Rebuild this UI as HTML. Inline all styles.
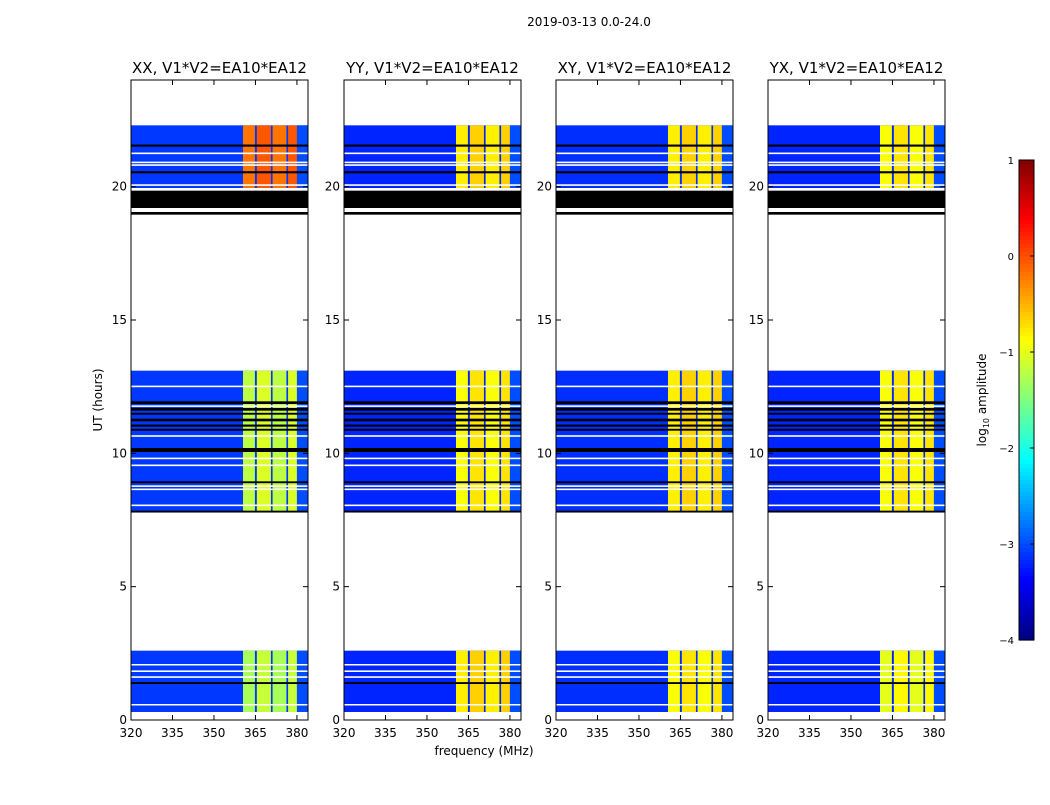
<!DOCTYPE html>
<html><head><meta charset="utf-8">
<style>
body{margin:0;background:#fff;}
svg text{font-family:"DejaVu Sans","Liberation Sans",sans-serif;fill:#000;}
</style></head>
<body>
<svg id="fig" width="1050" height="800" xmlns="http://www.w3.org/2000/svg">
<text x="589" y="26" font-size="12" text-anchor="middle">2019-03-13 0.0-24.0</text>
<text x="484" y="755" font-size="12" text-anchor="middle">frequency (MHz)</text>
<text transform="translate(102,400) rotate(-90)" font-size="12" text-anchor="middle">UT (hours)</text>
<text transform="translate(986,400) rotate(-90)" font-size="12" text-anchor="middle">log<tspan font-size="8" dy="3">10</tspan><tspan dy="-3"> amplitude</tspan></text>
</svg>
<script>
// ---- data ----
const panelTitles = ["XX, V1*V2=EA10*EA12","YY, V1*V2=EA10*EA12","XY, V1*V2=EA10*EA12","YX, V1*V2=EA10*EA12"];
const xTicks = [320,335,350,365,380];
const yTicks = [0,5,10,15,20];
const cbarTicks = [1,0,-1,-2,-3,-4];
const timeBlocks = [[0.3,2.6],[7.8,13.1],[19.95,22.3]];
// bright-band level per panel per block (log10 amp)
const bandLevelXX = [-1.3,-1.2,-0.2];
const bandLevelYY = [-0.8,-0.9,-0.8];
const bandLevelXY = [-0.9,-0.8,-0.8];
const bandLevelYX = [-1.0,-0.9,-0.9];
const backgroundLevel = [-3.1,-3.2,-3.15,-3.2];
// channel start freqs (MHz) of bright segments
const bandSegStart = [360.5,365.5,371.2,376.8];
const bandSegEnd = [364.8,370.6,376.2,380.0];
const blackBands = [[19.2,19.85],[18.95,19.05],[21.5,21.58],[20.5,20.58],[11.85,11.95],[11.6,11.7],[11.45,11.52],[11.2,11.3],[11.0,11.08],[10.85,10.92],[10.05,10.2],[8.88,8.95],[7.78,7.85],[1.35,1.42]];
const whiteLines = [[0.55,0.6],[1.58,1.64],[1.8,1.86],[2.05,2.1],[8.02,8.08],[8.62,8.68],[8.74,8.8],[9.52,9.58],[9.78,9.84],[10.62,10.68],[11.74,11.8],[12.48,12.54],[20.03,20.09],[20.78,20.84],[20.88,20.94],[21.22,21.28],[19.88,19.95],[19.05,19.12]];
const panelsLeft = [131,344,556,768];
const bandLevels = [bandLevelXX,bandLevelYY,bandLevelXY,bandLevelYX];

// ---- layout ----
const PW=177, TOP=80, BOT=720, FMIN=320, FMAX=384;
const svg=document.getElementById('fig');
const NS="http://www.w3.org/2000/svg";
const yS=h=>BOT-h*(BOT-TOP)/24;
const xS=(x0,f)=>x0+(f-FMIN)*PW/(FMAX-FMIN);
function jet(v){
  let t=Math.max(0,Math.min(1,(v+4)/5));
  const r=Math.max(0,Math.min(1,1.5-Math.abs(4*t-3)));
  const g=Math.max(0,Math.min(1,1.5-Math.abs(4*t-2)));
  const b=Math.max(0,Math.min(1,1.5-Math.abs(4*t-1)));
  return `rgb(${Math.round(r*255)},${Math.round(g*255)},${Math.round(b*255)})`;
}
function mk(tag,attrs,parent){const e=document.createElementNS(NS,tag);for(const k in attrs)e.setAttribute(k,attrs[k]);(parent||svg).appendChild(e);return e;}

panelsLeft.forEach((x0,p)=>{
  const g=mk('g',{});
  
  
  timeBlocks.forEach((blk,b)=>{
    const y1=yS(blk[1]), y0=yS(blk[0]);
    const bg=mk('rect',{x:x0,y:y1,width:PW,height:y0-y1,fill:jet(backgroundLevel[p])},g);
    
    
    bandSegStart.forEach((fs,s)=>{
      const r=mk('rect',{x:xS(x0,fs),y:y1,width:xS(x0,bandSegEnd[s])-xS(x0,fs),height:y0-y1,fill:jet(bandLevels[p][b]+(s%2?0.15:0))},g);
      
      
    });
    const d=mk('rect',{x:xS(x0,bandSegEnd[3]),y:y1,width:xS(x0,FMAX)-xS(x0,bandSegEnd[3]),height:y0-y1,fill:jet(-3.0)},g);
    
    
  });
  blackBands.forEach(bb=>{
    const r=mk('rect',{x:x0,y:yS(bb[1]),width:PW,height:Math.max(1.5,yS(bb[0])-yS(bb[1])),fill:'#000'},g);
    
    
  });
  whiteLines.forEach(wl=>{
    const r=mk('rect',{x:x0,y:yS(wl[1]),width:PW,height:Math.max(1.5,yS(wl[0])-yS(wl[1])),fill:'#fff'},g);
    
    
  });
  const fr=mk('rect',{x:x0,y:TOP,width:PW,height:BOT-TOP,fill:'none',stroke:'#000','stroke-width':1},g);
  
  
  const t=mk('text',{x:x0+PW/2,y:73,'font-size':15,'text-anchor':'middle'},g);
  t.textContent=panelTitles[p];
  
  
  xTicks.forEach(f=>{
    const x=xS(x0,f);
    mk('line',{x1:x,x2:x,y1:BOT,y2:BOT-5,stroke:'#000'},g);
    mk('line',{x1:x,x2:x,y1:TOP,y2:TOP+5,stroke:'#000'},g);
    const l=mk('text',{x:x,y:BOT+17,'font-size':12,'text-anchor':'middle'},g);
    l.textContent=f;
    
    
  });
  yTicks.forEach(h=>{
    const y=yS(h);
    mk('line',{x1:x0,x2:x0+5,y1:y,y2:y,stroke:'#000'},g);
    mk('line',{x1:x0+PW,x2:x0+PW-5,y1:y,y2:y,stroke:'#000'},g);
    const l=mk('text',{x:x0-4,y:y+4,'font-size':12,'text-anchor':'end'},g);
    l.textContent=h;
    
    
  });
});
// colorbar
const CBX=1019,CBW=15,CBT=160,CBB=640;
const cb=mk('g',{});


for(let i=0;i<120;i++){
  const v=1-5*(i+0.5)/120;
  mk('rect',{x:CBX,y:CBT+i*(CBB-CBT)/120,width:CBW,height:(CBB-CBT)/120+0.6,fill:jet(v)},cb);
}
mk('rect',{x:CBX,y:CBT,width:CBW,height:CBB-CBT,fill:'none',stroke:'#000'},cb);
cbarTicks.forEach(v=>{
  const y=CBT+(1-v)*(CBB-CBT)/5;
  mk('line',{x1:CBX+CBW-4,x2:CBX+CBW,y1:y,y2:y,stroke:'#000'},cb);
  const l=mk('text',{x:CBX-5,y:y+4,'font-size':10,'text-anchor':'end'},cb);
  l.textContent=v<0?'\u2212'+(-v):v;
  
  
});
</script>
</body></html>
